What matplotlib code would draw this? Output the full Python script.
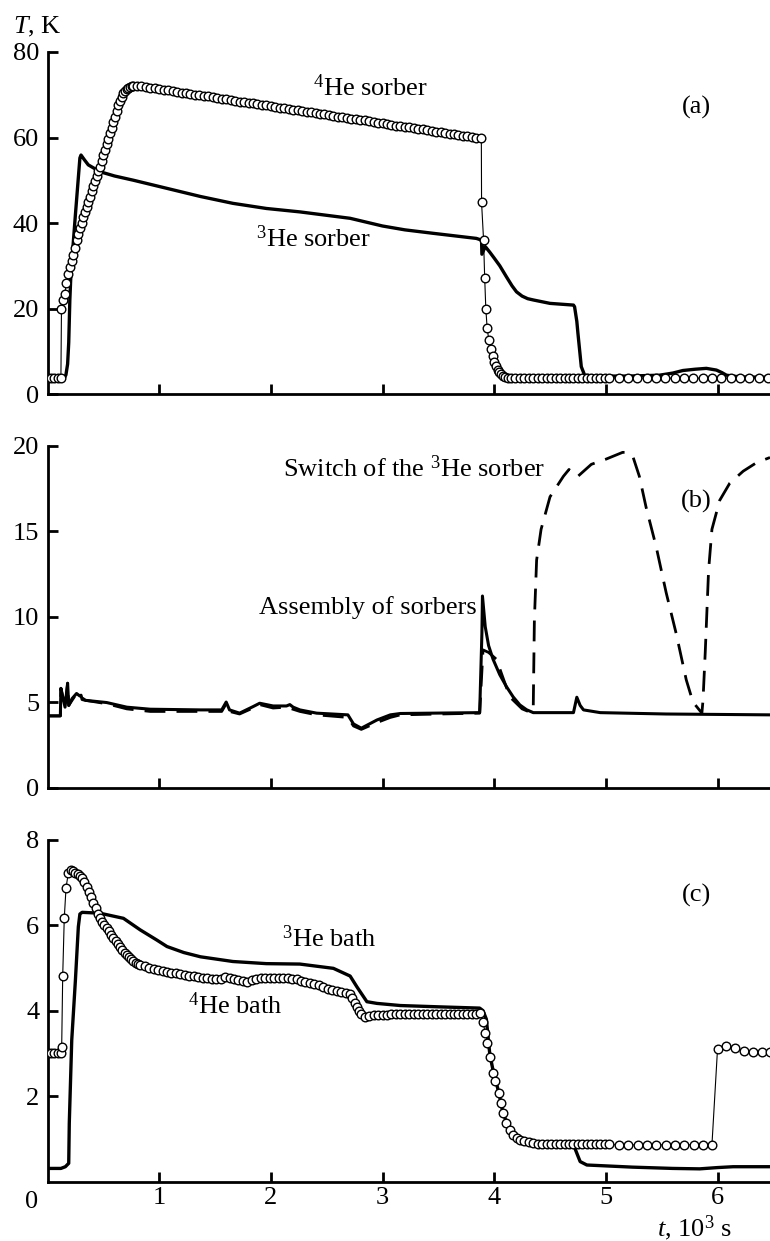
import matplotlib
matplotlib.use('Agg')
import matplotlib.pyplot as plt

plt.rcParams['font.family'] = ['Liberation Serif', 'DejaVu Serif']
plt.rcParams['mathtext.fontset'] = 'custom'
plt.rcParams['mathtext.rm'] = 'Liberation Serif'
plt.rcParams['mathtext.it'] = 'Liberation Serif:italic'
plt.rcParams['mathtext.bf'] = 'Liberation Serif:bold'

# ---------------- data (t in 10^3 s, T in K) ----------------
# Panel (a): 4He sorber (open circles)
t_he4_sorber = [
    0.00, 0.03, 0.06, 0.09, 0.12, 0.125, 0.14, 0.155, 0.17, 0.185,
    0.20, 0.215, 0.23, 0.245, 0.26, 0.275, 0.29, 0.305, 0.32, 0.335,
    0.35, 0.365, 0.38, 0.395, 0.41, 0.425, 0.44, 0.455, 0.47, 0.485,
    0.50, 0.515, 0.53, 0.545, 0.56, 0.575, 0.59, 0.605, 0.62, 0.635,
    0.65, 0.665, 0.68, 0.695, 0.71, 0.725, 0.74, 0.755, 0.77, 0.80,
    0.84, 0.88, 0.92, 0.96, 1.00, 1.04, 1.08, 1.12, 1.16, 1.20,
    1.24, 1.28, 1.32, 1.36, 1.40, 1.44, 1.48, 1.52, 1.56, 1.60,
    1.64, 1.68, 1.72, 1.76, 1.80, 1.84, 1.88, 1.92, 1.96, 2.00,
    2.04, 2.08, 2.12, 2.16, 2.20, 2.24, 2.28, 2.32, 2.36, 2.40,
    2.44, 2.48, 2.52, 2.56, 2.60, 2.64, 2.68, 2.72, 2.76, 2.80,
    2.84, 2.88, 2.92, 2.96, 3.00, 3.04, 3.08, 3.12, 3.16, 3.20,
    3.24, 3.28, 3.32, 3.36, 3.40, 3.44, 3.48, 3.52, 3.56, 3.60,
    3.64, 3.68, 3.72, 3.76, 3.80, 3.84, 3.885, 3.887, 3.905, 3.915,
    3.925, 3.937, 3.952, 3.97, 3.985, 4.00, 4.015, 4.03, 4.045, 4.06,
    4.08, 4.10, 4.12, 4.15, 4.19, 4.23, 4.27, 4.31, 4.35, 4.39,
    4.43, 4.47, 4.51, 4.55, 4.59, 4.63, 4.67, 4.71, 4.75, 4.79,
    4.83, 4.87, 4.91, 4.95, 4.99, 5.03, 5.12, 5.20, 5.28, 5.37,
    5.45, 5.53, 5.62, 5.70, 5.78, 5.87, 5.95, 6.03, 6.12, 6.20,
    6.28, 6.37, 6.45,
]
T_he4_sorber = [
    3.7, 3.7, 3.7, 3.7, 3.7, 20.0, 22.0, 23.5, 26.0, 28.0,
    29.8, 31.2, 32.6, 34.2, 36.0, 37.4, 38.8, 40.0, 41.3, 42.5,
    43.8, 45.0, 46.2, 47.4, 48.6, 49.8, 51.0, 52.1, 53.2, 54.5,
    55.8, 57.1, 58.4, 59.7, 61.0, 62.3, 63.6, 64.9, 66.2, 67.5,
    68.6, 69.5, 70.3, 70.9, 71.3, 71.6, 71.8, 72.0, 72.0, 72.0,
    72.0, 71.8, 71.6, 71.5, 71.3, 71.2, 71.0, 70.8, 70.7, 70.5,
    70.4, 70.2, 70.0, 69.9, 69.7, 69.6, 69.4, 69.2, 69.1, 68.9,
    68.8, 68.6, 68.4, 68.3, 68.1, 68.0, 67.8, 67.6, 67.5, 67.3,
    67.2, 67.0, 66.8, 66.7, 66.5, 66.4, 66.2, 66.0, 65.9, 65.7,
    65.6, 65.4, 65.2, 65.1, 64.9, 64.8, 64.6, 64.4, 64.3, 64.1,
    64.0, 63.8, 63.6, 63.5, 63.3, 63.2, 63.0, 62.8, 62.7, 62.5,
    62.4, 62.2, 62.0, 61.9, 61.7, 61.6, 61.4, 61.2, 61.1, 60.9,
    60.8, 60.6, 60.4, 60.3, 60.1, 60.0, 59.8, 44.8, 36.0, 27.2,
    20.0, 15.4, 12.6, 10.5, 8.8, 7.5, 6.5, 5.7, 5.1, 4.6,
    4.2, 4.0, 3.8, 3.7, 3.7, 3.7, 3.7, 3.7, 3.7, 3.7,
    3.7, 3.7, 3.7, 3.7, 3.7, 3.7, 3.7, 3.7, 3.7, 3.7,
    3.7, 3.7, 3.7, 3.7, 3.7, 3.7, 3.7, 3.7, 3.7, 3.7,
    3.7, 3.7, 3.7, 3.7, 3.7, 3.7, 3.7, 3.7, 3.7, 3.7,
    3.7, 3.7, 3.7,
]

# Panel (a): 3He sorber (thick solid line)
t_he3_sorber = [0.00, 0.15, 0.165, 0.18, 0.19, 0.20, 0.21, 0.25, 0.29, 0.30,
                0.33, 0.365, 0.47, 0.60, 0.77, 1.07, 1.37, 1.66, 1.96, 2.26,
                2.50, 2.71, 3.00, 3.20, 3.45, 3.84, 3.887, 3.89, 3.92, 3.96,
                4.00, 4.05, 4.11, 4.16, 4.20, 4.25, 4.30, 4.35, 4.50, 4.71,
                4.72, 4.74, 4.75, 4.77, 4.78, 4.81, 4.90, 5.20, 5.48, 5.60,
                5.69, 5.80, 5.90, 5.99, 6.04, 6.08, 6.20, 6.47]
T_he3_sorber = [3.7, 3.7, 4.5, 7.0, 12.0, 22.0, 28.3, 42.0, 55.2, 55.9,
                54.8, 53.6, 52.0, 51.0, 50.0, 48.1, 46.2, 44.6, 43.4, 42.6,
                41.8, 41.1, 39.3, 38.4, 37.6, 36.4, 36.0, 32.7, 34.5, 33.2,
                31.8, 30.0, 27.4, 25.3, 23.9, 22.9, 22.3, 22.0, 21.2, 20.8,
                20.4, 17.0, 14.2, 9.0, 6.4, 4.4, 4.2, 4.2, 4.4, 4.9,
                5.5, 5.8, 6.0, 5.6, 5.0, 4.4, 4.0, 3.9]

# Panel (b): assembly of sorbers (solid)
t_assembly = [0.00, 0.115, 0.12, 0.13, 0.157, 0.18, 0.19, 0.22, 0.26, 0.29,
              0.30, 0.31, 0.34, 0.53, 0.71, 0.92, 1.37, 1.56, 1.60, 1.63,
              1.72, 1.84, 1.90, 2.02, 2.14, 2.17, 2.20, 2.26, 2.41, 2.69,
              2.74, 2.81, 2.95, 3.07, 3.16, 3.87, 3.89, 3.895, 3.92, 3.95,
              3.99, 4.05, 4.11, 4.17, 4.23, 4.29, 4.35, 4.71, 4.74, 4.77,
              4.80, 4.95, 5.54, 6.47]
T_assembly = [4.19, 4.19, 5.8, 5.5, 4.7, 6.1, 4.8, 5.2, 5.5, 5.35,
              5.4, 5.15, 5.1, 4.97, 4.7, 4.58, 4.54, 4.54, 5.0, 4.54,
              4.35, 4.73, 4.93, 4.77, 4.77, 4.85, 4.7, 4.54, 4.35, 4.25,
              3.72, 3.47, 3.95, 4.25, 4.33, 4.38, 9.0, 11.2, 9.4, 8.3,
              7.5, 6.6, 5.9, 5.3, 4.83, 4.55, 4.38, 4.38, 5.28, 4.8,
              4.54, 4.38, 4.3, 4.25]

# Panel (b): switch of the 3He sorber (dashed)
t_switch = [0.00, 0.115, 0.12, 0.157, 0.18, 0.19, 0.26, 0.34, 0.53, 0.71,
            0.92, 1.37, 1.56, 1.60, 1.63, 1.72, 1.84, 1.90, 2.02, 2.14,
            2.26, 2.41, 2.69, 2.74, 2.81, 2.95, 3.07, 3.16, 3.87, 3.90,
            3.95, 4.02, 4.14, 4.25, 4.33, 4.35, 4.36, 4.38, 4.42, 4.50,
            4.62, 4.67, 4.71, 4.75, 4.87, 5.00, 5.15, 5.19, 5.24, 5.30,
            5.36, 5.45, 5.54, 5.63, 5.72, 5.78, 5.86, 5.87, 5.89, 5.92,
            5.95, 6.02, 6.11, 6.23, 6.35, 6.47]
T_switch = [4.19, 4.19, 5.8, 4.7, 6.1, 4.8, 5.5, 5.1, 4.9, 4.6,
            4.45, 4.45, 4.45, 4.9, 4.45, 4.3, 4.65, 4.85, 4.65, 4.7,
            4.45, 4.25, 4.1, 3.6, 3.4, 3.8, 4.1, 4.25, 4.35, 8.05,
            7.9, 7.5, 5.3, 4.6, 4.38, 4.73, 9.8, 13.3, 15.1, 17.0,
            18.2, 18.6, 18.3, 18.2, 18.9, 19.2, 19.6, 19.6, 19.4, 18.2,
            16.4, 14.1, 11.4, 9.0, 6.3, 5.0, 4.35, 5.1, 7.9, 12.7,
            15.1, 16.8, 17.8, 18.5, 19.0, 19.3]

# Panel (c): 4He bath (open circles)
t_he4_bath = [
    0.00, 0.03, 0.06, 0.09, 0.12, 0.127, 0.136, 0.15, 0.166, 0.186,
    0.21, 0.23, 0.25, 0.27, 0.29, 0.31, 0.33, 0.35, 0.37, 0.39,
    0.41, 0.43, 0.45, 0.47, 0.49, 0.51, 0.53, 0.55, 0.57, 0.59,
    0.61, 0.63, 0.65, 0.67, 0.69, 0.71, 0.73, 0.75, 0.77, 0.79,
    0.81, 0.83, 0.87, 0.91, 0.95, 0.99, 1.03, 1.07, 1.11, 1.15,
    1.19, 1.23, 1.27, 1.31, 1.35, 1.39, 1.43, 1.47, 1.51, 1.55,
    1.59, 1.63, 1.67, 1.71, 1.75, 1.79, 1.83, 1.87, 1.91, 1.95,
    1.99, 2.03, 2.07, 2.11, 2.15, 2.19, 2.23, 2.27, 2.31, 2.35,
    2.39, 2.43, 2.47, 2.51, 2.55, 2.59, 2.63, 2.67, 2.71, 2.73,
    2.75, 2.77, 2.79, 2.81, 2.84, 2.88, 2.92, 2.96, 3.00, 3.04,
    3.08, 3.12, 3.16, 3.20, 3.24, 3.28, 3.32, 3.36, 3.40, 3.44,
    3.48, 3.52, 3.56, 3.60, 3.64, 3.68, 3.72, 3.76, 3.80, 3.84,
    3.87, 3.90, 3.92, 3.94, 3.96, 3.99, 4.01, 4.04, 4.06, 4.08,
    4.11, 4.14, 4.17, 4.20, 4.23, 4.27, 4.31, 4.35, 4.39, 4.43,
    4.47, 4.51, 4.55, 4.59, 4.63, 4.67, 4.71, 4.75, 4.79, 4.83,
    4.87, 4.91, 4.95, 4.99, 5.03, 5.12, 5.20, 5.29, 5.37, 5.45,
    5.54, 5.62, 5.70, 5.79, 5.87, 5.95, 6.00, 6.08, 6.16, 6.24,
    6.32, 6.40, 6.47,
]
T_he4_bath = [
    3.0, 3.0, 3.0, 3.0, 3.0, 3.16, 4.8, 6.16, 6.88, 7.21,
    7.29, 7.27, 7.23, 7.2, 7.16, 7.1, 7.02, 6.9, 6.78, 6.65,
    6.52, 6.39, 6.27, 6.17, 6.08, 6.0, 5.93, 5.86, 5.78, 5.7,
    5.63, 5.57, 5.5, 5.43, 5.36, 5.3, 5.25, 5.2, 5.16, 5.12,
    5.09, 5.07, 5.04, 5.0, 4.97, 4.95, 4.93, 4.91, 4.89, 4.87,
    4.86, 4.84, 4.82, 4.8, 4.78, 4.77, 4.76, 4.75, 4.74, 4.75,
    4.78, 4.77, 4.74, 4.71, 4.69, 4.68, 4.72, 4.75, 4.76, 4.76,
    4.77, 4.77, 4.77, 4.77, 4.76, 4.75, 4.73, 4.7, 4.67, 4.65,
    4.63, 4.59, 4.55, 4.51, 4.48, 4.46, 4.44, 4.42, 4.4, 4.3,
    4.18, 4.09, 4.0, 3.93, 3.86, 3.87, 3.89, 3.9, 3.91, 3.91,
    3.92, 3.92, 3.92, 3.93, 3.93, 3.93, 3.93, 3.93, 3.93, 3.93,
    3.93, 3.93, 3.93, 3.93, 3.93, 3.93, 3.93, 3.93, 3.93, 3.93,
    3.94, 3.74, 3.47, 3.24, 2.92, 2.54, 2.35, 2.07, 1.84, 1.6,
    1.38, 1.21, 1.1, 1.02, 0.98, 0.94, 0.92, 0.9, 0.88, 0.87,
    0.87, 0.87, 0.87, 0.87, 0.87, 0.87, 0.87, 0.87, 0.87, 0.87,
    0.87, 0.87, 0.87, 0.87, 0.87, 0.86, 0.86, 0.86, 0.86, 0.86,
    0.86, 0.86, 0.86, 0.86, 0.86, 0.86, 3.1, 3.17, 3.12, 3.06,
    3.04, 3.03, 3.03,
]

# Panel (c): 3He bath (thick solid line)
t_he3_bath = [0.00, 0.12, 0.16, 0.19, 0.195, 0.217, 0.25, 0.276, 0.29, 0.31,
              0.47, 0.68, 0.83, 0.98, 1.07, 1.22, 1.37, 1.66, 1.96, 2.26,
              2.56, 2.71, 2.77, 2.86, 2.95, 3.16, 3.50, 3.87, 3.90, 3.93,
              3.96, 3.99, 4.04, 4.08, 4.14, 4.20, 4.30, 4.50, 4.72, 4.75,
              4.77, 4.83, 5.24, 5.60, 5.84, 6.00, 6.14, 6.47]
T_he3_bath = [0.31, 0.31, 0.35, 0.43, 1.37, 3.31, 4.72, 5.96, 6.26, 6.3,
              6.28, 6.16, 5.89, 5.65, 5.5, 5.36, 5.26, 5.15, 5.1, 5.09,
              4.99, 4.81, 4.56, 4.21, 4.17, 4.12, 4.09, 4.06, 4.0, 3.8,
              3.0, 2.6, 2.1, 1.6, 1.2, 1.0, 0.9, 0.84, 0.8, 0.6,
              0.47, 0.39, 0.34, 0.31, 0.3, 0.33, 0.35, 0.35]

X_TICKS = [1, 2, 3, 4, 5, 6]
X_TICK_LABELS = ['1', '2', '3', '4', '5', '6']
YTICKS_A = [0, 20, 40, 60, 80]
YTICKS_B = [0, 5, 10, 15, 20]
YTICKS_C = [2, 4, 6, 8]

# ---------------- figure ----------------
FS = 19
fig = plt.figure(figsize=(7.7, 12.41), dpi=100)
L, W, H = 0.0617, 0.9383, 0.2756
ax_a = fig.add_axes([L, 0.6825, W, H])
ax_b = fig.add_axes([L, 0.3654, W, H])
ax_c = fig.add_axes([L, 0.0478, W, H])

for ax, ylim, yt in ((ax_a, (0, 80), YTICKS_A),
                     (ax_b, (0, 20), YTICKS_B),
                     (ax_c, (0, 8), YTICKS_C)):
    ax.set_xlim(0, 6.47)
    ax.set_ylim(*ylim)
    ax.set_yticks(yt)
    ax.set_xticks(X_TICKS)
    for s in ('top', 'right'):
        ax.spines[s].set_visible(False)
    for s in ('left', 'bottom'):
        ax.spines[s].set_linewidth(2.0)
    ax.tick_params(direction='in', length=7, width=2.0, labelsize=FS, pad=6)
    ax.patch.set_alpha(0)

ax_a.tick_params(axis='x', labelbottom=False)
ax_b.tick_params(axis='x', labelbottom=False)
ax_c.set_xticklabels(X_TICK_LABELS)
ax_c.tick_params(axis='x', pad=4)

circ = dict(color='black', lw=0.8, marker='o', ms=6.2, mfc='white',
            mec='black', mew=1.0, zorder=3)

# (a)
ax_a.plot(t_he3_sorber, T_he3_sorber, color='black', lw=2.4, zorder=2,
          solid_joinstyle='round')
ax_a.plot(t_he4_sorber, T_he4_sorber, **circ)
# (b)
ax_b.plot(t_switch, T_switch, color='black', lw=2.0, dashes=(7.5, 4.0), zorder=2)
ax_b.plot(t_assembly, T_assembly, color='black', lw=2.2, zorder=3,
          solid_joinstyle='round')
# (c)
ax_c.plot(t_he3_bath, T_he3_bath, color='black', lw=2.4, zorder=2,
          solid_joinstyle='round')
ax_c.plot(t_he4_bath, T_he4_bath, **circ)

# annotations
ax_a.text(2.38, 69.8, r'$^{4}$He sorber', fontsize=FS, va='baseline')
ax_a.text(5.815, 65.5, '(a)', fontsize=FS, ha='center', va='baseline')
ax_a.text(1.87, 34.5, r'$^{3}$He sorber', fontsize=FS, va='baseline')

ax_b.text(2.108, 18.17, r'Switch of the $^{3}$He sorber', fontsize=FS, va='baseline')
ax_b.text(5.81, 16.35, '(b)', fontsize=FS, ha='center', va='baseline')
ax_b.text(1.893, 10.16, 'Assembly of sorbers', fontsize=FS, va='baseline')

ax_c.text(2.097, 5.5, r'$^{3}$He bath', fontsize=FS, va='baseline')
ax_c.text(1.26, 3.92, r'$^{4}$He bath', fontsize=FS, va='baseline')
ax_c.text(5.815, 6.55, '(c)', fontsize=FS, ha='center', va='baseline')

fig.text(13 / 770, 1 - 33.3 / 1241, r'$T$, K', fontsize=FS, va='baseline')
fig.text(656.7 / 770, 1 - 1236 / 1241, r'$t$, 10$^{3}$ s', fontsize=FS, va='baseline')
fig.text(32 / 770, 0.0318, '0', fontsize=FS, ha='center', va='center')

fig.savefig('out.png', dpi=100)
